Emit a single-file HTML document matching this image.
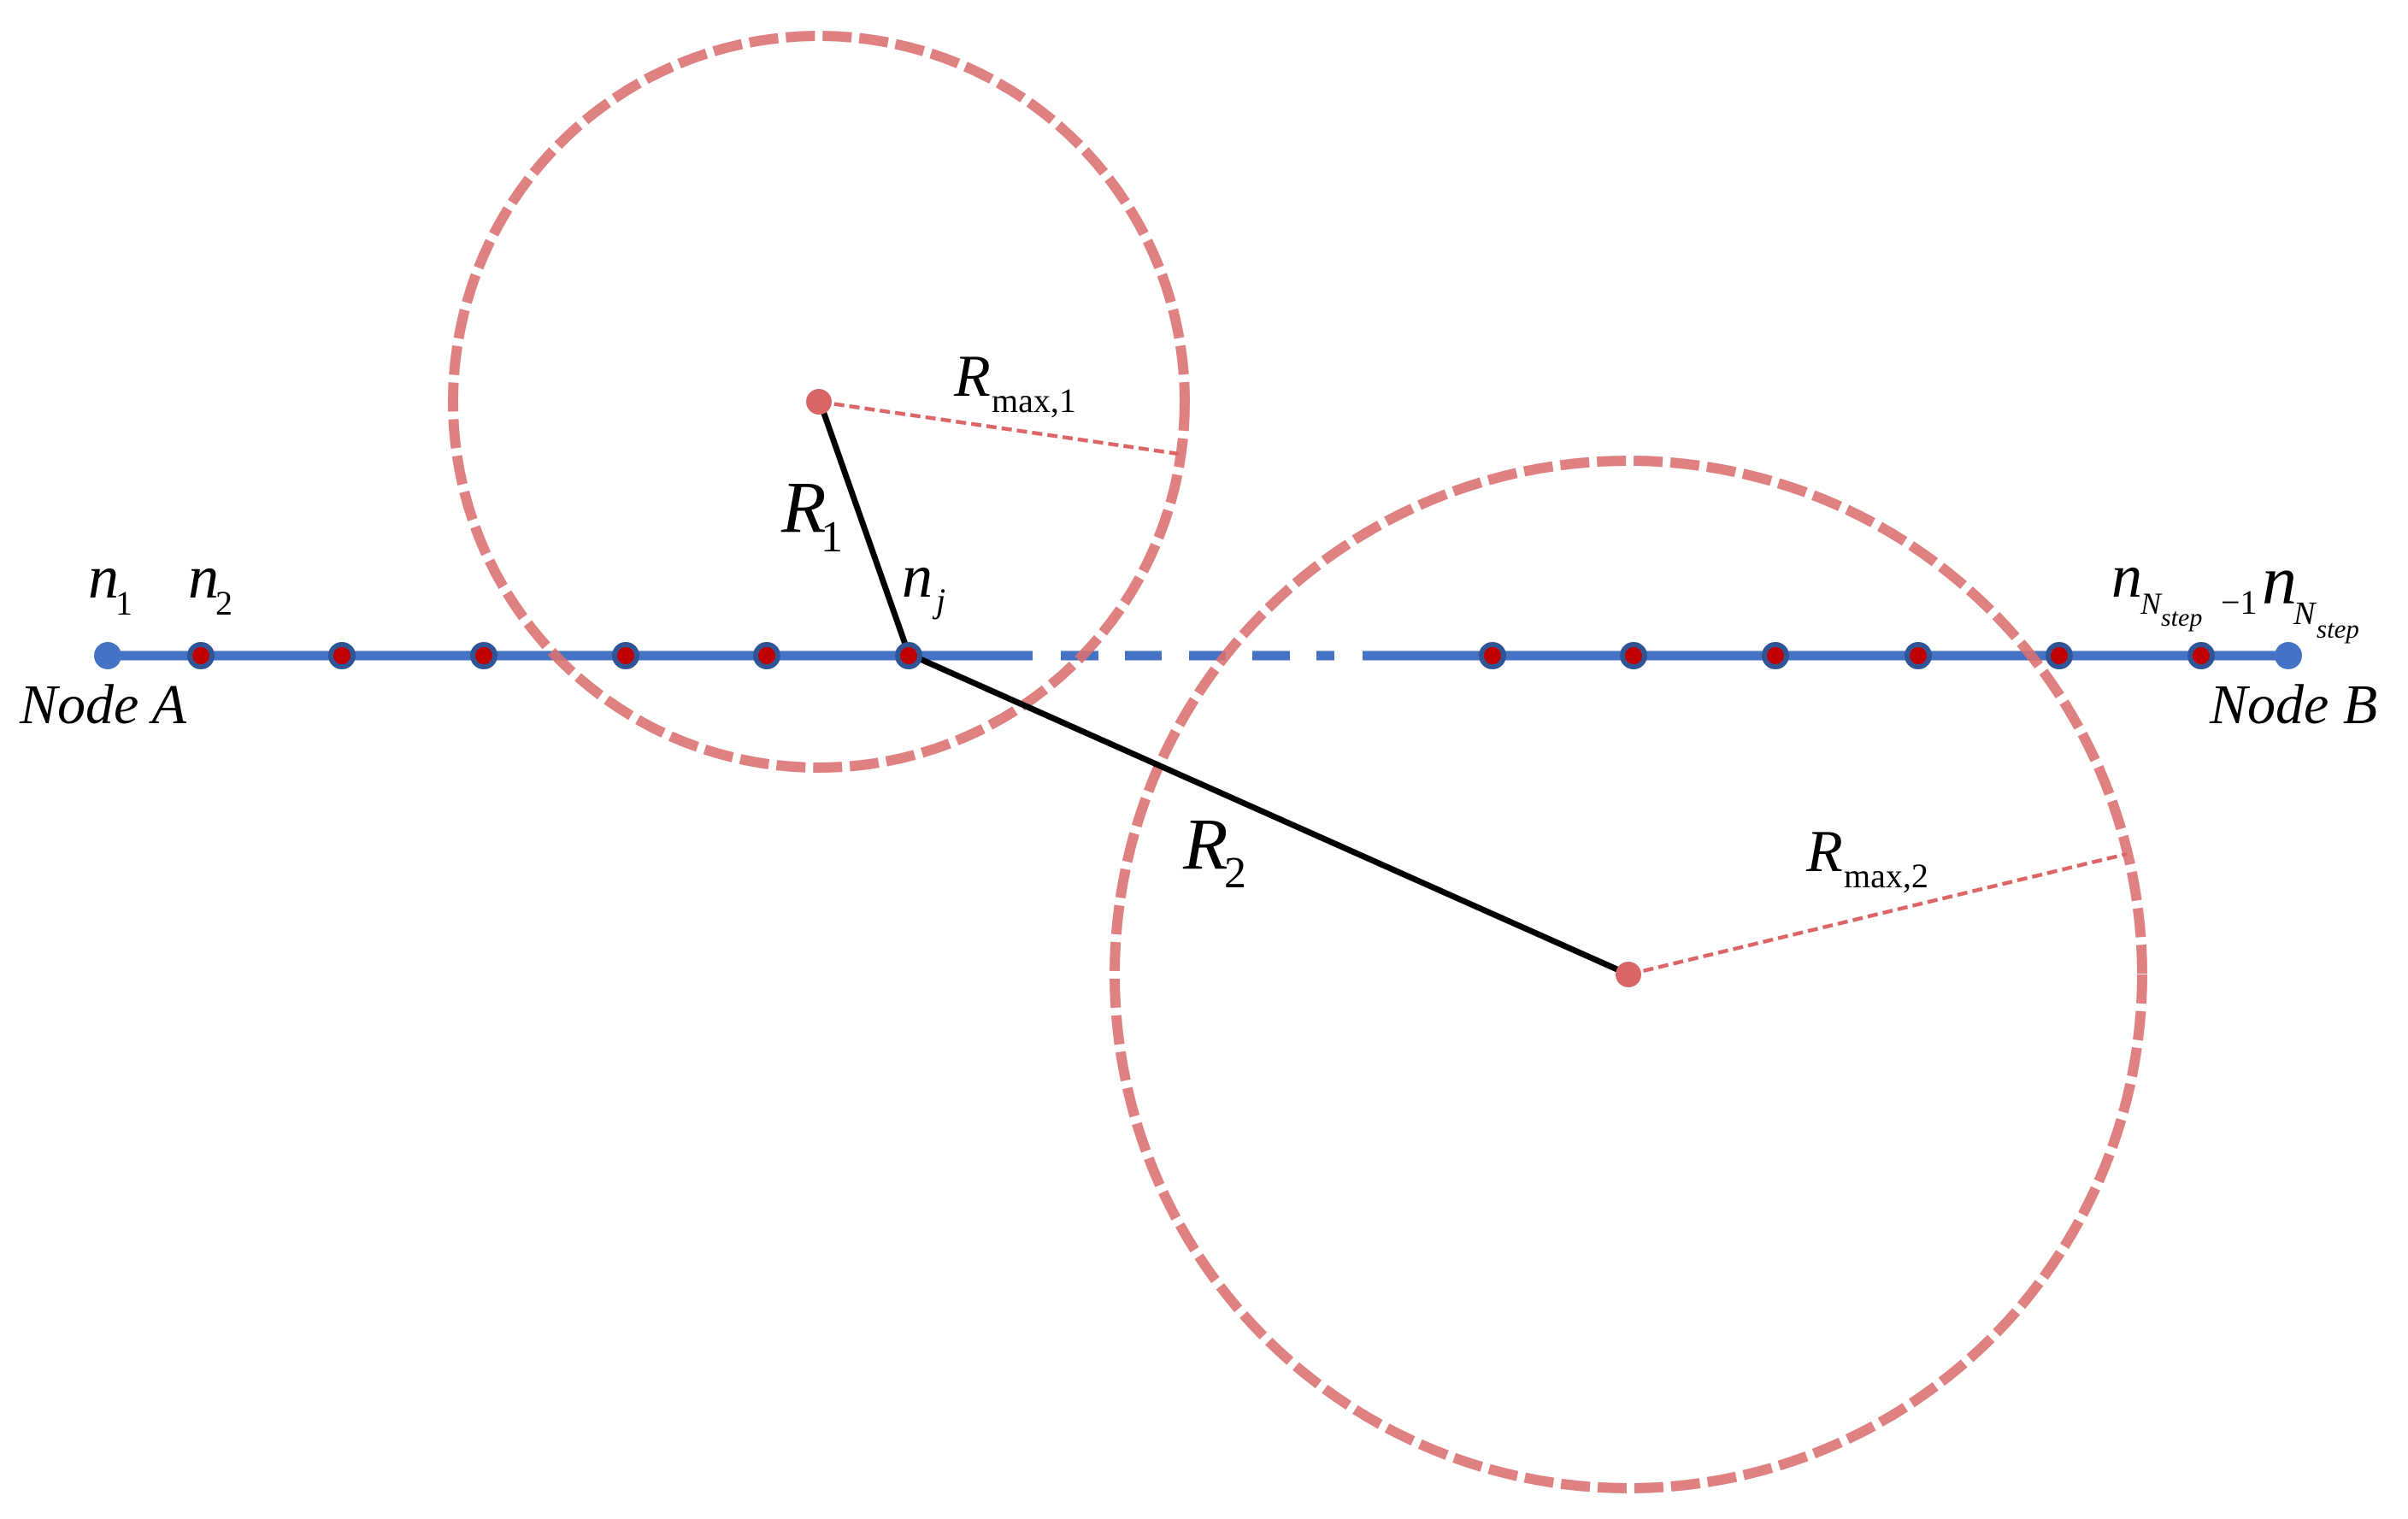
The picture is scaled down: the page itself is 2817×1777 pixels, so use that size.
<!DOCTYPE html>
<html><head><meta charset="utf-8"><style>
html,body{margin:0;padding:0;background:#fff;}
svg{display:block;}
text{font-family:"Liberation Serif",serif;fill:#000;}
</style></head><body>
<svg width="2817" height="1777" viewBox="0 0 2817 1777" xmlns="http://www.w3.org/2000/svg">
<g stroke="#4472c4" stroke-width="11">
<line x1="126" y1="767" x2="1208" y2="767"/>
<line x1="1241" y1="767" x2="1285" y2="767"/>
<line x1="1316" y1="767" x2="1359" y2="767"/>
<line x1="1391" y1="767" x2="1434" y2="767"/>
<line x1="1465" y1="767" x2="1509" y2="767"/>
<line x1="1540" y1="767" x2="1561" y2="767"/>
<line x1="1594" y1="767" x2="2677" y2="767"/>
</g>
<g fill="none" stroke="#dc7070" stroke-opacity="0.88" stroke-width="12" stroke-dasharray="34 9">
<circle cx="958" cy="470" r="428"/>
<circle cx="1905" cy="1140" r="601"/>
</g>
<g stroke="#dc6666" stroke-width="4.5" stroke-dasharray="12 6">
<line x1="958" y1="470" x2="1379" y2="531"/>
<line x1="1905" y1="1140" x2="2488" y2="999"/>
</g>
<g stroke="#000" stroke-width="7" stroke-linecap="round">
<line x1="962" y1="478" x2="1063" y2="765"/>
<line x1="1063" y1="765" x2="1903" y2="1139"/>
</g>
<circle cx="958" cy="470" r="15" fill="#d96666"/>
<circle cx="1905" cy="1140" r="15" fill="#d96666"/>
<circle cx="126" cy="767" r="16" fill="#4472c4"/>
<circle cx="2677" cy="767" r="16" fill="#4472c4"/>
<g fill="#c00000" stroke="#2f5597" stroke-width="6">
<circle cx="235" cy="767" r="13"/>
<circle cx="400" cy="767" r="13"/>
<circle cx="566" cy="767" r="13"/>
<circle cx="732" cy="767" r="13"/>
<circle cx="897" cy="767" r="13"/>
<circle cx="1063" cy="767" r="13"/>
<circle cx="1746" cy="767" r="13"/>
<circle cx="1911" cy="767" r="13"/>
<circle cx="2077" cy="767" r="13"/>
<circle cx="2244" cy="767" r="13"/>
<circle cx="2409" cy="767" r="13"/>
<circle cx="2575" cy="767" r="13"/>
</g>
<g font-style="italic">
<text x="103" y="699" font-size="72">n</text>
<text x="220" y="699" font-size="72">n</text>
<text x="23" y="846" font-size="66">Node A</text>
<text x="2585" y="846" font-size="66">Node B</text>
<text x="1055" y="698" font-size="72">n</text>
<text x="1095" y="716" font-size="40">j</text>
<text x="2470" y="698" font-size="72">n</text>
<text x="2504" y="718" font-size="36">N</text>
<text x="2528" y="732" font-size="30">step</text>
<text x="2646" y="706" font-size="82">n</text>
<text x="2683" y="730" font-size="38">N</text>
<text x="2710" y="746" font-size="31">step</text>
<text x="914" y="622" font-size="86">R</text>
<text x="1384" y="1016" font-size="86">R</text>
<text x="1116" y="463" font-size="70">R</text>
<text x="2113" y="1019" font-size="70">R</text>
</g>
<text x="135" y="719" font-size="40">1</text>
<text x="252" y="719" font-size="40">2</text>
<text x="2598" y="718" font-size="40">−1</text>
<text x="960" y="645" font-size="52">1</text>
<text x="1432" y="1038" font-size="52">2</text>
<text x="1160" y="482" font-size="40">max,1</text>
<text x="2157" y="1038" font-size="40">max,2</text>
</svg>
</body></html>
